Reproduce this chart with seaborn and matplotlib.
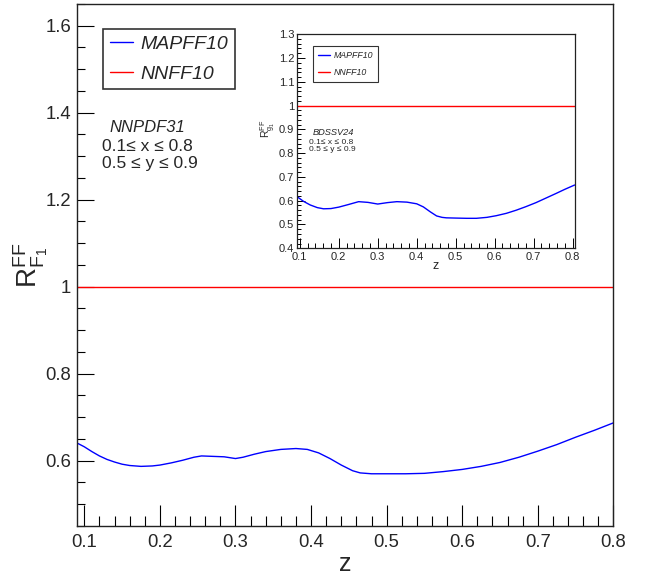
import numpy as np
import pandas as pd
import matplotlib
matplotlib.use("Agg")
import matplotlib.pyplot as plt
from matplotlib.ticker import MultipleLocator, FuncFormatter
import seaborn as sns

# main panel: NNPDF31
main_z = [0.09, 0.10, 0.11, 0.12, 0.13, 0.14, 0.15, 0.16, 0.175, 0.19, 0.20, 0.215, 0.23,
          0.245, 0.255, 0.27, 0.285, 0.30, 0.31, 0.325, 0.34, 0.36, 0.38, 0.395, 0.41,
          0.425, 0.44, 0.455, 0.465, 0.48, 0.50, 0.525, 0.55, 0.575, 0.60, 0.625, 0.65,
          0.675, 0.70, 0.725, 0.75, 0.775, 0.80]
main_mapff = [0.641, 0.632, 0.621, 0.611, 0.603, 0.597, 0.592, 0.589, 0.587, 0.588, 0.590,
              0.595, 0.601, 0.608, 0.611, 0.610, 0.609, 0.605, 0.608, 0.615, 0.621, 0.626,
              0.628, 0.626, 0.618, 0.605, 0.590, 0.577, 0.572, 0.570, 0.570, 0.570, 0.571,
              0.575, 0.580, 0.587, 0.596, 0.608, 0.622, 0.637, 0.654, 0.670, 0.687]
main_nnff_z = [0.09, 0.80]
main_nnff = [1.0, 1.0]

# inset panel: BDSSV24
inset_z = [0.093, 0.11, 0.127, 0.145, 0.161, 0.18, 0.20, 0.225, 0.251, 0.275, 0.30, 0.325,
           0.349, 0.375, 0.40, 0.417, 0.435, 0.451, 0.465, 0.476, 0.50, 0.528, 0.553, 0.58,
           0.604, 0.63, 0.655, 0.68, 0.706, 0.73, 0.758, 0.78, 0.805]
inset_mapff = [0.617, 0.597, 0.582, 0.571, 0.566, 0.567, 0.573, 0.584, 0.596, 0.593, 0.586,
               0.592, 0.596, 0.594, 0.587, 0.574, 0.553, 0.536, 0.530, 0.528, 0.527, 0.526,
               0.526, 0.530, 0.537, 0.547, 0.560, 0.575, 0.592, 0.610, 0.631, 0.648, 0.666]
inset_nnff_z = [0.093, 0.806]
inset_nnff = [1.0, 1.0]

sns.set_style("white")
plt.rcParams['font.family'] = ['Liberation Sans', 'DejaVu Sans']
plt.rcParams['mathtext.default'] = 'regular'

fmt = FuncFormatter(lambda v, p: f"{v:g}")

fig = plt.figure(figsize=(6.45, 5.77), dpi=100)
ax = fig.add_axes([0.119, 0.0884, 0.832, 0.905])

sns.lineplot(x=main_z, y=main_mapff, ax=ax, color='blue', lw=1.0, label='MAPFF10')
sns.lineplot(x=main_nnff_z, y=main_nnff, ax=ax, color='red', lw=1.0, label='NNFF10')
ax.set_xlim(0.09, 0.80)
ax.set_ylim(0.45, 1.65)
ax.xaxis.set_major_locator(MultipleLocator(0.1))
ax.xaxis.set_minor_locator(MultipleLocator(0.02))
ax.yaxis.set_major_locator(MultipleLocator(0.2))
ax.yaxis.set_minor_locator(MultipleLocator(0.05))
ax.xaxis.set_major_formatter(fmt)
ax.yaxis.set_major_formatter(fmt)
ax.tick_params(axis='x', which='major', direction='in', length=15, width=0.8, labelsize=13.3, pad=6)
ax.tick_params(axis='x', which='minor', direction='in', length=7.5, width=0.8)
ax.tick_params(axis='y', which='major', direction='in', length=12, width=0.8, labelsize=13.3, pad=4)
ax.tick_params(axis='y', which='minor', direction='in', length=6, width=0.8)
ax.tick_params(top=False, right=False, bottom=True, left=True, which='both', color='black')
for s in ax.spines.values():
    s.set_color('#222222')
    s.set_linewidth(1.0)
ax.set_xlabel('z', fontsize=18)
ax.xaxis.set_label_coords(0.5, -0.049)
ax.set_ylabel(r'$R^{FF}_{F_1}$', fontsize=20)
ax.yaxis.set_label_coords(-0.05, 0.5)
leg = ax.legend(loc='upper left', bbox_to_anchor=(0.049, 0.952), frameon=True, fancybox=False,
                prop={'style': 'italic', 'size': 14}, handlelength=1.2, handletextpad=0.35,
                labelspacing=0.6, borderpad=0.35, borderaxespad=0)
leg.get_frame().set_edgecolor('black')
leg.get_frame().set_linewidth(1.2)
ax.text(0.061, 0.763, 'NNPDF31', transform=ax.transAxes, fontsize=12, style='italic', va='center')
ax.text(0.047, 0.726, '0.1≤ x ≤ 0.8', transform=ax.transAxes, fontsize=12.5, va='center')
ax.text(0.047, 0.695, '0.5 ≤ y ≤ 0.9', transform=ax.transAxes, fontsize=12.5, va='center')

# inset
ax2 = fig.add_axes([0.4605, 0.5697, 0.431, 0.371])
sns.lineplot(x=inset_z, y=inset_mapff, ax=ax2, color='blue', lw=1.0, label='MAPFF10')
sns.lineplot(x=inset_nnff_z, y=inset_nnff, ax=ax2, color='red', lw=1.0, label='NNFF10')
ax2.set_xlim(0.093, 0.806)
ax2.set_ylim(0.4, 1.3)
ax2.xaxis.set_major_locator(MultipleLocator(0.1))
ax2.xaxis.set_minor_locator(MultipleLocator(0.02))
ax2.yaxis.set_major_locator(MultipleLocator(0.1))
ax2.yaxis.set_minor_locator(MultipleLocator(0.02))
ax2.xaxis.set_major_formatter(fmt)
ax2.yaxis.set_major_formatter(fmt)
ax2.tick_params(axis='x', which='major', direction='in', length=7, width=0.7, labelsize=8, pad=3)
ax2.tick_params(axis='x', which='minor', direction='in', length=3.5, width=0.7)
ax2.tick_params(axis='y', which='major', direction='in', length=5.5, width=0.7, labelsize=8, pad=2)
ax2.tick_params(axis='y', which='minor', direction='in', length=2.8, width=0.7)
ax2.tick_params(top=False, right=False, bottom=True, left=True, which='both', color='black')
for s in ax2.spines.values():
    s.set_color('#222222')
    s.set_linewidth(0.9)
ax2.set_xlabel('z', fontsize=9)
ax2.xaxis.set_label_coords(0.5, -0.055)
ax2.set_ylabel(r'$R^{FF}_{g_1}$', fontsize=7.5)
ax2.yaxis.set_label_coords(-0.068, 0.56)
leg2 = ax2.legend(loc='upper left', bbox_to_anchor=(0.058, 0.944), frameon=True, fancybox=False,
                  prop={'style': 'italic', 'size': 6.3}, handlelength=1.35, handletextpad=0.45,
                  labelspacing=0.9, borderpad=0.55, borderaxespad=0)
leg2.get_frame().set_edgecolor('black')
leg2.get_frame().set_linewidth(0.8)
ax2.text(0.058, 0.543, 'BDSSV24', transform=ax2.transAxes, fontsize=6.7, style='italic', va='center')
ax2.text(0.044, 0.493, '0.1≤ x ≤ 0.8', transform=ax2.transAxes, fontsize=6, va='center')
ax2.text(0.044, 0.460, '0.5 ≤ y ≤ 0.9', transform=ax2.transAxes, fontsize=6, va='center')

fig.savefig('out.png', dpi=100)
